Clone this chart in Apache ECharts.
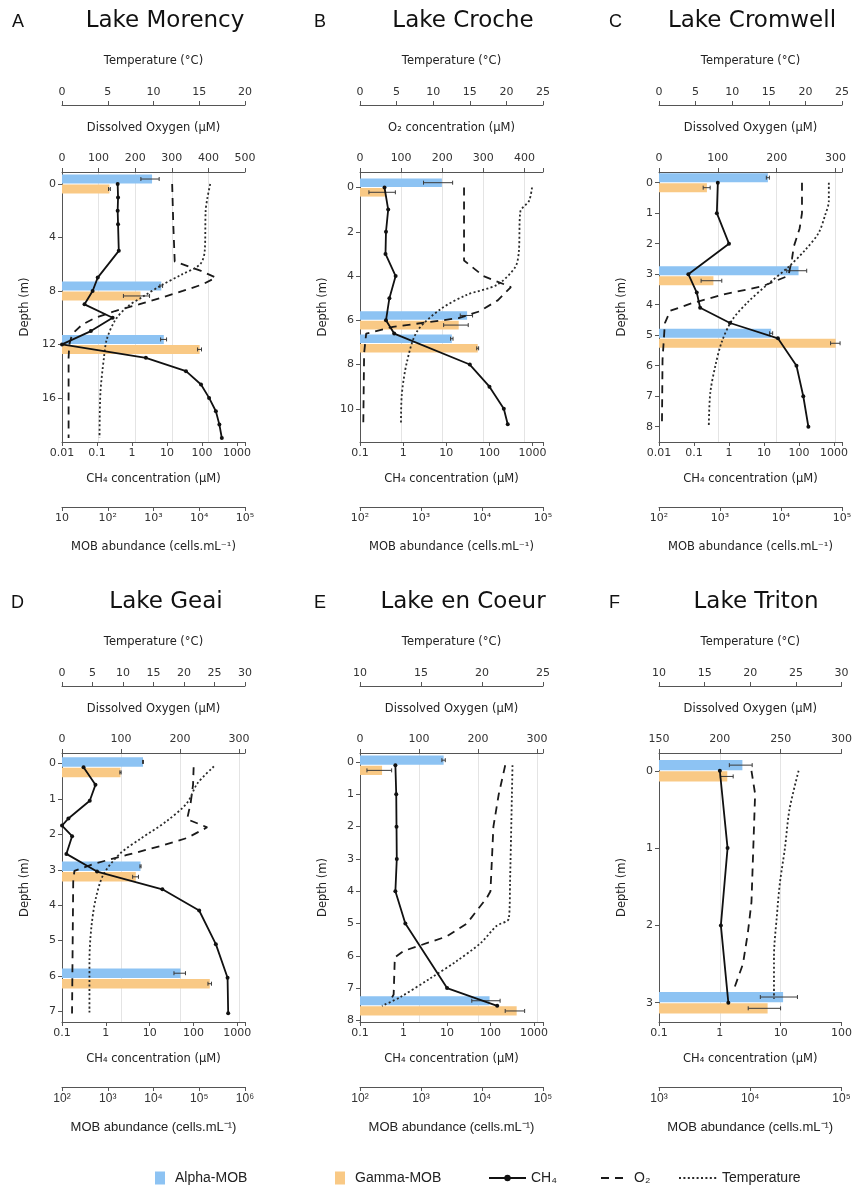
<!DOCTYPE html>
<html>
<head>
<meta charset="utf-8">
<script src="https://cdn.jsdelivr.net/npm/echarts@6/dist/echarts.min.js"></script>
<style>
  html, body { margin: 0; padding: 0; background: #ffffff; }
  #chart { width: 855px; height: 1194px; }
</style>
</head>
<body>
<div id="chart"></div>
<script>
// ---------------- Depth profiles: [depth (m), value] ----------------
// Lake Morency
const morencyCH4 = [[0,0.39],[1,0.40],[2,0.39],[3,0.40],[5,0.42],[7,0.105],[8,0.075],[9,0.044],[10,0.28],[11,0.067],[12,0.01],[13,2.5],[14,35],[15,94],[16,160],[17,250],[18,315],[19,370]];
const morencyO2 = [[0,301],[3,304],[5.8,308],[6.5,380],[7,420],[7.5,385],[8,330],[8.5,272],[9,210],[9.5,145],[10,92],[10.5,56],[11,36],[11.5,25],[12,20],[13,18],[19,18]];
const morencyTemp = [[0,16.2],[1,15.9],[2,15.7],[5,15.6],[6,15.1],[6.8,13.0],[7.6,10.8],[8.4,8.9],[9.2,7.1],[10.2,5.8],[11.6,4.9],[12.9,4.6],[15.6,4.2],[19,4.1]];
// [depth, cells/mL, error]
const morencyAlpha = [[0,930,400],[8,1480,100],[12,1680,250]];
const morencyGamma = [[0,109,5],[8,520,300],[12,10200,1000]];

// Lake Croche
const crocheCH4 = [[0,0.37],[1,0.45],[2,0.40],[3,0.39],[4,0.67],[5,0.48],[6,0.40],[6.6,0.62],[8,35],[9,100],[10,215],[10.7,265]];
const crocheO2 = [[0,253],[3.3,253],[4.0,300],[4.5,367],[5.1,335],[5.6,290],[5.9,240],[6.1,160],[6.3,80],[6.6,15],[7.5,10],[10.7,8]];
const crocheTemp = [[0,23.5],[0.6,23.1],[1.1,21.9],[2.9,21.7],[3.6,21.2],[4.4,18.7],[4.85,14.6],[5.5,11.0],[6.5,7.8],[7.9,6.4],[9.4,5.7],[10.7,5.6]];
const crocheAlpha = [[0,2200,1100],[6,5700,1300],[7.05,3200,150]];
const crocheGamma = [[0,260,120],[6,4150,1800],[7.05,8500,300]];

// Lake Cromwell
const cromwellCH4 = [[0,0.48],[1,0.45],[2,1.0],[3,0.069],[3.6,0.12],[4.1,0.15],[4.6,1.07],[5.1,25],[6,85],[7,133],[8,186]];
const cromwellO2 = [[0,243],[1,243],[1.5,239],[2.1,229],[2.5,226],[3.05,220],[3.4,175],[3.65,112],[3.95,56],[4.2,19],[4.6,10],[5.8,6],[8,5]];
const cromwellTemp = [[0,23.2],[0.6,23.2],[1.06,22.7],[1.65,21.8],[2.2,20.0],[2.76,17.7],[3.3,15.0],[3.9,12.2],[4.5,10.0],[5.2,8.6],[6,7.7],[6.9,7.0],[8,6.8]];
const cromwellAlpha = [[0,6100,350],[3.05,19400,7000],[5.1,6900,400]];
const cromwellGamma = [[0,610,80],[3.05,780,290],[5.1,79000,14000]];

// Lake Geai
const geaiCH4 = [[0.1,0.31],[0.6,0.58],[1.05,0.43],[1.55,0.14],[1.75,0.10],[2.05,0.17],[2.55,0.126],[3.05,0.63],[3.55,19.5],[4.15,135],[5.1,324],[6.05,600],[7.05,620]];
const geaiO2 = [[0.1,223],[0.6,222],[1.1,218],[1.57,212],[1.8,246],[2.1,212],[2.33,167],[2.58,110],[2.83,54],[3.03,21],[3.34,19],[7.06,17]];
const geaiTemp = [[0.08,24.9],[0.56,22.2],[1.11,20.5],[1.62,17.2],[2.12,12.9],[2.53,9.6],[3.13,6.8],[3.84,5.5],[4.65,4.8],[5.56,4.5],[7.03,4.5]];
const geaiAlpha = [[0.1,5900,150],[3.05,5200,150],[6.07,39000,11000]];
const geaiGamma = [[0.1,1900,60],[3.05,4100,600],[6.07,170000,15000]];

// Lake en Coeur
const coeurCH4 = [[0.1,0.65],[1,0.68],[2,0.69],[3,0.70],[4,0.65],[5,1.1],[7,10],[7.55,142]];
const coeurO2 = [[0.1,246],[1,235],[2,226],[4,221],[4.2,215],[5,181],[5.4,147],[5.85,74],[6.05,59],[7.2,57],[7.3,54]];
const coeurTemp = [[0.1,22.5],[3.7,22.3],[4.85,22.2],[5.07,21.2],[5.6,19.9],[6.17,17.9],[6.7,15.75],[7.28,13.3],[7.55,11.8]];
const coeurAlpha = [[0.1,2350,150],[7.55,13300,6500]];
const coeurGamma = [[0.1,230,100],[7.55,37000,13000]];

// Lake Triton
const tritonCH4 = [[0,1.0],[1,1.34],[2,1.04],[3,1.38]];
const tritonO2 = [[0,226],[0.3,229],[1,227.5],[1.7,226],[2.1,223],[2.5,219],[2.85,211]];
const tritonTemp = [[0,25.3],[0.5,24.3],[1,23.8],[1.45,23.25],[1.9,22.9],[2.4,22.6],[2.95,22.6]];
const tritonAlpha = [[0,8200,2300],[3,22900,10000]];
const tritonGamma = [[0,5600,900],[3,15500,6000]];

// Depth tick labels
const morencyDepthTicks = [0,4,8,12,16];
const crocheDepthTicks = [0,2,4,6,8,10];
const cromwellDepthTicks = [0,1,2,3,4,5,6,7,8];
const geaiDepthTicks = [0,1,2,3,4,5,6,7];
const coeurDepthTicks = [0,1,2,3,4,5,6,7,8];
const tritonDepthTicks = [0,1,2,3];

const legendNames = ['Alpha-MOB','Gamma-MOB','CH₄','O₂','Temperature'];

// ---------------- Styling / layout ----------------
const FONT = "'DejaVu Sans', Verdana, sans-serif";
const NARROW = "'Liberation Sans', Arial, sans-serif";
const AXIS = '#555555';
const LABEL = '#333333';
const NAME = '#222222';
const BLUE = '#8dc3f3';
const ORANGE = '#f9c985';
const PLOT_W = 183;

const panels = [
  { letter:'A', name:'Lake Morency', x:62, y:172, h:270, letterX:12, titleX:165, titleY:10,
    temp:[0,20,5], oxy:[0,500,100], oxyName:'Dissolved Oxygen (µM)', ch4:[0.01,1700], mob:[10,1e5],
    depth:[-0.9,19.3], ticks:morencyDepthTicks, barH:9, narrowMob:false,
    ch4Data:morencyCH4, o2Data:morencyO2, tempData:morencyTemp, alpha:morencyAlpha, gamma:morencyGamma },
  { letter:'B', name:'Lake Croche', x:360, y:172, h:270, letterX:314, titleX:463, titleY:10,
    temp:[0,25,5], oxy:[0,445,100], oxyName:'O₂ concentration (µM)', ch4:[0.1,1740], mob:[100,1e5],
    depth:[-0.7,11.5], ticks:crocheDepthTicks, barH:8.6, narrowMob:false,
    ch4Data:crocheCH4, o2Data:crocheO2, tempData:crocheTemp, alpha:crocheAlpha, gamma:crocheGamma },
  { letter:'C', name:'Lake Cromwell', x:659, y:172, h:270, letterX:609, titleX:752, titleY:10,
    temp:[0,25,5], oxy:[0,311,100], oxyName:'Dissolved Oxygen (µM)', ch4:[0.01,1700], mob:[100,1e5],
    depth:[-0.35,8.5], ticks:cromwellDepthTicks, barH:9, narrowMob:false,
    ch4Data:cromwellCH4, o2Data:cromwellO2, tempData:cromwellTemp, alpha:cromwellAlpha, gamma:cromwellGamma },
  { letter:'D', name:'Lake Geai', x:62, y:753, h:269, letterX:11, titleX:166, titleY:591,
    temp:[0,30,5], oxy:[0,310,100], oxyName:'Dissolved Oxygen (µM)', ch4:[0.1,1500], mob:[100,1e6],
    depth:[-0.3,7.3], ticks:geaiDepthTicks, barH:9.5, narrowMob:true,
    ch4Data:geaiCH4, o2Data:geaiO2, tempData:geaiTemp, alpha:geaiAlpha, gamma:geaiGamma },
  { letter:'E', name:'Lake en Coeur', x:360, y:753, h:269, letterX:314, titleX:463, titleY:591,
    temp:[10,25,5], oxy:[0,310,100], oxyName:'Dissolved Oxygen (µM)', ch4:[0.1,1600], mob:[100,1e5],
    depth:[-0.28,8.05], ticks:coeurDepthTicks, barH:9.2, narrowMob:true,
    ch4Data:coeurCH4, o2Data:coeurO2, tempData:coeurTemp, alpha:coeurAlpha, gamma:coeurGamma },
  { letter:'F', name:'Lake Triton', x:659, y:753, h:269, letterX:609, titleX:756, titleY:591,
    temp:[10,30,5], oxy:[150,300,50], oxyName:'Dissolved Oxygen (µM)', ch4:[0.1,100], mob:[1000,1e5],
    depth:[-0.23,3.25], ticks:tritonDepthTicks, barH:10.3, narrowMob:true,
    ch4Data:tritonCH4, o2Data:tritonO2, tempData:tritonTemp, alpha:tritonAlpha, gamma:tritonGamma }
];

// ---------------- Label formatters ----------------
const SUP = {'0':'⁰','1':'¹','2':'²','3':'³','4':'⁴','5':'⁵','6':'⁶','7':'⁷','8':'⁸','9':'⁹','-':'⁻'};
function isDecade(v) { const e = Math.log10(v); return Math.abs(e - Math.round(e)) < 1e-6; }
function powerLabel(v) {
  if (!isDecade(v)) return '';
  const e = Math.round(Math.log10(v));
  if (e === 1) return '10';
  return '10' + String(e).split('').map(c => SUP[c]).join('');
}
function plainLogLabel(v) {
  if (!isDecade(v)) return '';
  const e = Math.round(Math.log10(v));
  return e < 0 ? Math.pow(10, e).toFixed(-e) : String(Math.round(Math.pow(10, e)));
}
function stepLabel(step) {
  return v => (Math.abs(v / step - Math.round(v / step)) < 1e-6 ? String(v) : '');
}

// ---------------- Axis builder ----------------
function xAxisDef(gridIndex, o) {
  return {
    gridIndex,
    type: o.type,
    position: o.position,
    offset: o.offset,
    min: o.min, max: o.max,
    interval: o.interval,
    logBase: 10,
    name: o.name,
    nameLocation: 'middle',
    nameGap: o.nameGap,
    nameTextStyle: { color: NAME, fontSize: o.nameSize || 11.5, fontFamily: o.font || FONT },
    axisLine: { show: true, onZero: false, lineStyle: { color: AXIS, width: 1 } },
    axisTick: { show: true, length: 4, lineStyle: { color: AXIS } },
    axisLabel: { color: LABEL, fontSize: o.labelSize || 11, fontFamily: o.font || FONT,
                 margin: o.margin, formatter: o.formatter },
    splitLine: o.split
      ? { show: true, showMinLine: false, showMaxLine: false, lineStyle: { color: '#e4e4e4', width: 1 } }
      : { show: false },
    axisPointer: { show: false }
  };
}

function barRenderer(side, h) {
  return function (params, api) {
    const depth = api.value(0);
    const val = api.value(1);
    const err = api.value(2);
    const cs = params.coordSys;
    const tip = api.coord([val, depth]);
    const yTop = side < 0 ? tip[1] - h - 0.5 : tip[1] + 0.5;
    const yMid = yTop + h / 2;
    const lo = api.coord([Math.max(val - err, val * 0.05), depth])[0];
    const hi = api.coord([val + err, depth])[0];
    const ebar = { stroke: '#3a3a3a', lineWidth: 1 };
    return {
      type: 'group',
      children: [
        { type: 'rect', shape: { x: cs.x, y: yTop, width: Math.max(tip[0] - cs.x, 0), height: h },
          style: { fill: api.visual('color') } },
        { type: 'line', shape: { x1: lo, y1: yMid, x2: hi, y2: yMid }, style: ebar },
        { type: 'line', shape: { x1: lo, y1: yMid - 2, x2: lo, y2: yMid + 2 }, style: ebar },
        { type: 'line', shape: { x1: hi, y1: yMid - 2, x2: hi, y2: yMid + 2 }, style: ebar }
      ]
    };
  };
}

const flip = arr => arr.map(p => [p[1], p[0]]);

const grid = [], xAxis = [], yAxis = [], series = [], title = [];

panels.forEach((p, i) => {
  grid.push({ left: p.x, top: p.y, width: PLOT_W, height: p.h, containLabel: false });

  // 4i+0: temperature (top, offset)
  xAxis.push(xAxisDef(i, { type: 'value', position: 'top', offset: 67,
    min: p.temp[0], max: p.temp[1], interval: p.temp[2], name: 'Temperature (°C)', nameGap: 38,
    margin: 7, formatter: stepLabel(p.temp[2]) }));
  // 4i+1: dissolved oxygen (top of plot)
  xAxis.push(xAxisDef(i, { type: 'value', position: 'top', offset: 0,
    min: p.oxy[0], max: p.oxy[1], interval: p.oxy[2], name: p.oxyName, nameGap: 38,
    margin: 8, formatter: stepLabel(p.oxy[2]), split: true }));
  // 4i+2: methane (bottom of plot, log)
  xAxis.push(xAxisDef(i, { type: 'log', position: 'bottom', offset: 0,
    min: p.ch4[0], max: p.ch4[1], name: 'CH₄ concentration (µM)', nameGap: 31,
    margin: 6, formatter: plainLogLabel }));
  // 4i+3: MOB abundance (bottom, offset, log)
  xAxis.push(xAxisDef(i, { type: 'log', position: 'bottom', offset: 65,
    min: p.mob[0], max: p.mob[1], name: 'MOB abundance (cells.mL⁻¹)', nameGap: 34,
    margin: 6, formatter: powerLabel,
    font: p.narrowMob ? NARROW : FONT, labelSize: p.narrowMob ? 12 : 11, nameSize: p.narrowMob ? 13 : 11.5 }));

  yAxis.push({
    gridIndex: i, type: 'value', inverse: true, min: p.depth[0], max: p.depth[1],
    name: 'Depth (m)', nameLocation: 'middle', nameGap: 31, nameRotate: 90,
    nameTextStyle: { color: NAME, fontSize: 11.5, fontFamily: FONT },
    axisLine: { show: true, onZero: false, lineStyle: { color: AXIS, width: 1 } },
    axisTick: { show: true, length: 4, lineStyle: { color: AXIS }, customValues: p.ticks },
    axisLabel: { color: LABEL, fontSize: 11, fontFamily: FONT, margin: 6, customValues: p.ticks },
    splitLine: { show: false },
    axisPointer: { show: false }
  });

  const xi = 4 * i;
  series.push({
    type: 'custom', name: 'Alpha-MOB', xAxisIndex: xi + 3, yAxisIndex: i,
    data: p.alpha, encode: { x: 1, y: 0 }, itemStyle: { color: BLUE },
    renderItem: barRenderer(-1, p.barH), z: 2, silent: true
  });
  series.push({
    type: 'custom', name: 'Gamma-MOB', xAxisIndex: xi + 3, yAxisIndex: i,
    data: p.gamma, encode: { x: 1, y: 0 }, itemStyle: { color: ORANGE },
    renderItem: barRenderer(1, p.barH), z: 2, silent: true
  });
  series.push({
    type: 'line', name: 'O₂', xAxisIndex: xi + 1, yAxisIndex: i,
    data: flip(p.o2Data), symbol: 'none',
    lineStyle: { color: '#1a1a1a', width: 1.8, type: [8, 6] },
    itemStyle: { color: '#1a1a1a' }, z: 3, silent: true
  });
  series.push({
    type: 'line', name: 'Temperature', xAxisIndex: xi + 0, yAxisIndex: i,
    data: flip(p.tempData), symbol: 'none', smooth: 0.3,
    lineStyle: { color: '#2a2a2a', width: 1.8, type: [2, 2.4] },
    itemStyle: { color: '#2a2a2a' }, z: 3, silent: true
  });
  series.push({
    type: 'line', name: 'CH₄', xAxisIndex: xi + 2, yAxisIndex: i,
    data: flip(p.ch4Data), symbol: 'circle', symbolSize: 4, showSymbol: true,
    lineStyle: { color: '#111111', width: 1.8 },
    itemStyle: { color: '#111111' }, z: 4, silent: true
  });

  title.push({ text: p.letter, left: p.letterX, top: p.titleY + 3, padding: 0,
    textStyle: { fontFamily: "'Liberation Sans', Arial, sans-serif", fontSize: 18, fontWeight: 'normal', color: '#111' } });
  title.push({ text: p.name, left: p.titleX, textAlign: 'center', top: p.titleY, padding: 0,
    textStyle: { fontFamily: FONT, fontSize: 23, fontWeight: 'normal', color: '#111' } });
});

// Legend: one component per entry so each sits at its own place on the row
const legendSpots = [
  { left: 155, iconW: 20, iconH: 13, icon: 'path://M0,0H10V13H0Z' },
  { left: 335, iconW: 20, iconH: 13, icon: 'path://M0,0H10V13H0Z' },
  { left: 488, iconW: 37, iconH: 8 },
  { left: 600, iconW: 28, iconH: 8, plainLine: true },
  { left: 678, iconW: 38, iconH: 8, plainLine: true }
];
const legend = legendNames.map((n, k) => {
  const s = legendSpots[k];
  const item = { name: n };
  if (s.icon) item.icon = s.icon;
  const def = {
    data: [item], left: s.left, top: 1171, padding: 0,
    itemWidth: s.iconW, itemHeight: s.iconH, selectedMode: false,
    textStyle: { fontFamily: NARROW, fontSize: 14, color: '#222' }
  };
  // dashed / dotted entries show only the line, without a marker
  if (s.plainLine) def.itemStyle = { color: 'rgba(0,0,0,0)', borderWidth: 0, opacity: 0 };
  return def;
});

const chart = echarts.init(document.getElementById('chart'), null, { renderer: 'canvas' });
chart.setOption({
  animation: false,
  backgroundColor: '#ffffff',
  textStyle: { fontFamily: FONT },
  title, legend, grid, xAxis, yAxis, series
});
</script>
</body>
</html>
